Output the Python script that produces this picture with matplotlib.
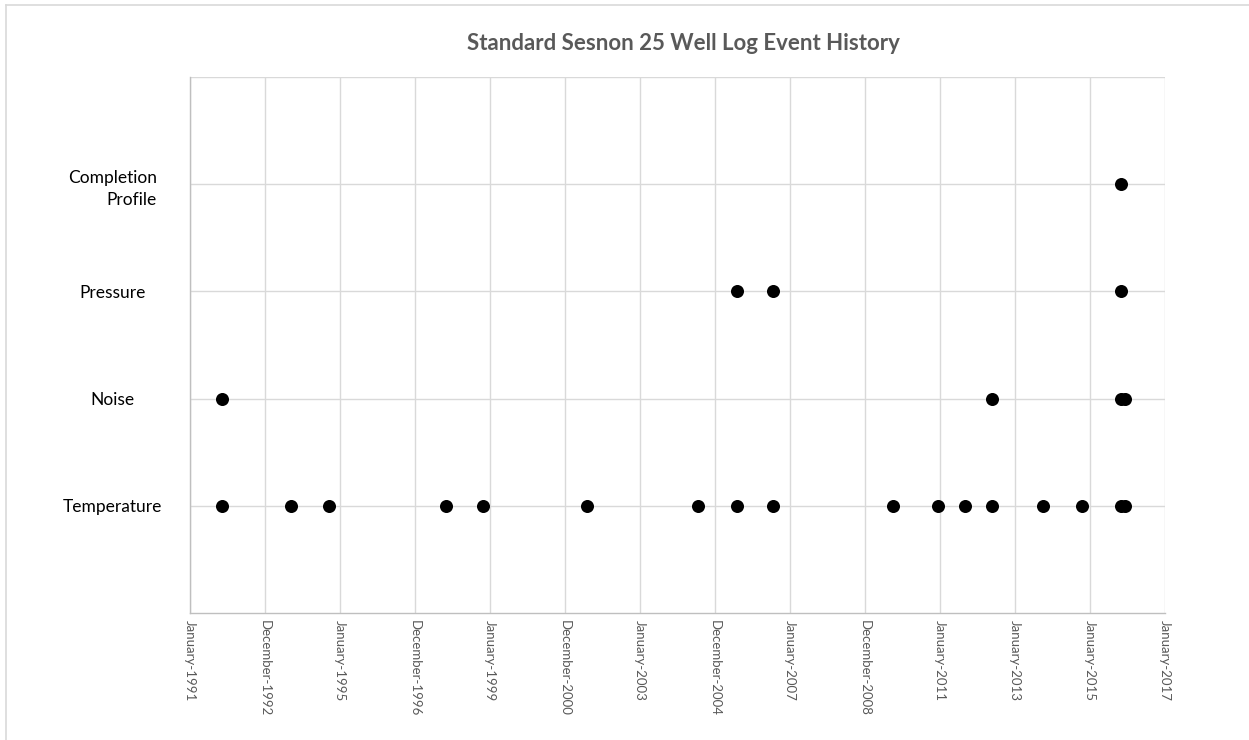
import matplotlib
matplotlib.use("Agg")
import matplotlib.pyplot as plt
import matplotlib.dates as mdates
from matplotlib.lines import Line2D
import numpy as np

plt.rcParams['font.family'] = ['Lato', 'DejaVu Sans']

title = "Standard Sesnon 25 Well Log Event History"
categories = ["Temperature", "Noise", "Pressure", "Completion\nProfile"]

temperature_dates = ["1991-11-05", "1993-09-10", "1994-09-15", "1997-10-26", "1998-10-27",
                     "2001-08-05", "2004-07-20", "2005-08-07", "2006-07-24", "2009-09-29",
                     "2010-12-11", "2011-08-31", "2012-05-21", "2013-09-29", "2014-10-14",
                     "2015-10-29", "2015-12-06"]
noise_dates = ["1991-11-05", "2012-05-21", "2015-10-29", "2015-12-06"]
pressure_dates = ["2005-08-07", "2006-07-24", "2015-10-29"]
completion_dates = ["2015-10-29"]

tick_labels = ["January-1991", "December-1992", "January-1995", "December-1996",
               "January-1999", "December-2000", "January-2003", "December-2004",
               "January-2007", "December-2008", "January-2011", "January-2013",
               "January-2015", "January-2017"]
x_start, x_end = "1991-01-01", "2017-01-01"

series = [temperature_dates, noise_dates, pressure_dates, completion_dates]

fig = plt.figure(figsize=(12.49, 7.40), dpi=100)
ax = fig.add_axes([190/1249, 1-613/740, (1165-190)/1249, (613-77)/740])

for i, dates in enumerate(series):
    xs = mdates.datestr2num(dates)
    ax.scatter(xs, np.full(len(xs), i + 1), s=88, color='black', zorder=3, linewidths=0)

x0, x1 = mdates.datestr2num(x_start), mdates.datestr2num(x_end)
ax.set_xlim(x0, x1)
ax.set_ylim(0, 5)
ax.set_xticks(np.linspace(x0, x1, len(tick_labels)))
ax.set_xticklabels(tick_labels, rotation=-90, va='top', ha='center', color='#595959', fontsize=9.5)
ax.set_yticks(range(1, len(categories) + 1))
ax.set_yticklabels(categories, fontsize=12.5, color='black', linespacing=1.45)
for lab in ax.get_yticklabels():
    lab.set_ha('center')
    lab.set_multialignment('right')
ax.tick_params(axis='y', length=0, pad=56)
ax.tick_params(axis='x', length=0, pad=5)

# gridlines
for y in range(1, 6):
    ax.axhline(y, color='#d9d9d9', lw=1, zorder=1)
for xt in ax.get_xticks():
    ax.axvline(xt, color='#d9d9d9', lw=1, zorder=1)

for s in ['top', 'right']:
    ax.spines[s].set_visible(False)
for s in ['left', 'bottom']:
    ax.spines[s].set_color('#bfbfbf')
    ax.spines[s].set_linewidth(1)

fig.text((190+1165)/2/1249 + 0.005, 1-43/740, title, ha='center', va='center',
         fontsize=16, fontweight='bold', color='#595959')

# outer chart border (left/top visible)
fig.add_artist(Line2D([6/1249, 6/1249], [0, 1-5/740], color='#d9d9d9', lw=1.2, transform=fig.transFigure))
fig.add_artist(Line2D([6/1249, 1], [1-5/740, 1-5/740], color='#d9d9d9', lw=1.2, transform=fig.transFigure))

fig.savefig("out.png", dpi=100)
